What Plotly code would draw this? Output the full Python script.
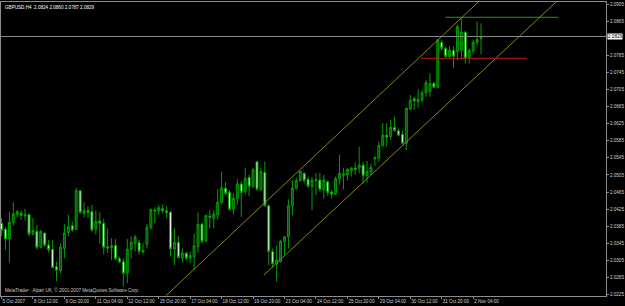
import plotly.graph_objects as go

# ---- data (GBPUSD H4) ----
opens = [2.0392,2.0378,2.0356,2.0394,2.0412,2.0415,2.0409,2.0412,2.0367,2.0373,
         2.0336,2.0369,2.0341,2.0331,2.0290,2.0280,2.0333,2.0370,2.0386,2.0378,
         2.0468,2.0415,2.0421,2.0419,2.0378,2.0397,2.0392,2.0337,2.0335,2.0340,
         2.0309,2.0302,2.0275,2.0331,2.0345,2.0347,2.0324,2.0343,2.0382,2.0423,
         2.0421,2.0426,2.0421,2.0418,2.0331,2.0347,2.0311,2.0322,2.0310,2.0314,
         2.0337,2.0390,2.0351,2.0409,2.0403,2.0411,2.0441,2.0474,2.0464,2.0425,
         2.0450,2.0484,2.0466,2.0499,2.0478,2.0536,2.0471,2.0511,2.0433,2.0326,
         2.0297,2.0302,2.0349,2.0360,2.0433,2.0474,2.0492,2.0509,2.0495,2.0478,
         2.0494,2.0493,2.0470,2.0489,2.0465,2.0460,2.0496,2.0507,2.0505,2.0515,
         2.0521,2.0521,2.0528,2.0503,2.0511,2.0545,2.0544,2.0574,2.0598,2.0595,
         2.0616,2.0608,2.0600,2.0579,2.0659,2.0683,2.0676,2.0680,2.0697,2.0700,
         2.0719,2.0710,2.0815,2.0801,2.0782,2.0796,2.0794,2.0797,2.0839,2.0778,
         2.0795,2.0815,2.0824]
highs = [2.0404,2.0383,2.0419,2.0441,2.0423,2.0422,2.0426,2.0415,2.0404,2.0388,
         2.0376,2.0370,2.0353,2.0353,2.0302,2.0345,2.0390,2.0412,2.0396,2.0475,
         2.0470,2.0441,2.0431,2.0435,2.0422,2.0418,2.0402,2.0380,2.0357,2.0355,
         2.0314,2.0310,2.0355,2.0361,2.0365,2.0353,2.0345,2.0390,2.0427,2.0429,
         2.0435,2.0436,2.0432,2.0419,2.0380,2.0362,2.0333,2.0325,2.0325,2.0368,
         2.0417,2.0394,2.0411,2.0423,2.0423,2.0472,2.0513,2.0488,2.0470,2.0462,
         2.0495,2.0491,2.0522,2.0505,2.0521,2.0538,2.0521,2.0536,2.0435,2.0333,
         2.0339,2.0353,2.0362,2.0448,2.0493,2.0499,2.0515,2.0510,2.0501,2.0501,
         2.0509,2.0510,2.0505,2.0492,2.0471,2.0501,2.0552,2.0521,2.0521,2.0523,
         2.0534,2.0571,2.0536,2.0538,2.0532,2.0549,2.0583,2.0626,2.0626,2.0634,
         2.0641,2.0614,2.0609,2.0663,2.0692,2.0688,2.0705,2.0704,2.0727,2.0743,
         2.0723,2.0822,2.0821,2.0805,2.0807,2.0805,2.0856,2.0872,2.0842,2.0801,
         2.0822,2.0864,2.0860]
lows = [2.0361,2.0330,2.0300,2.0386,2.0406,2.0400,2.0398,2.0361,2.0363,2.0330,
        2.0334,2.0337,2.0323,2.0287,2.0256,2.0275,2.0310,2.0362,2.0372,2.0376,
        2.0414,2.0406,2.0404,2.0372,2.0366,2.0344,2.0319,2.0322,2.0306,2.0305,
        2.0298,2.0244,2.0252,2.0310,2.0326,2.0318,2.0322,2.0333,2.0376,2.0392,
        2.0411,2.0415,2.0404,2.0314,2.0294,2.0310,2.0300,2.0304,2.0298,2.0283,
        2.0323,2.0345,2.0347,2.0380,2.0380,2.0401,2.0436,2.0458,2.0421,2.0413,
        2.0435,2.0407,2.0460,2.0456,2.0474,2.0468,2.0468,2.0431,2.0294,2.0287,
        2.0255,2.0300,2.0318,2.0333,2.0411,2.0470,2.0489,2.0485,2.0474,2.0423,
        2.0458,2.0466,2.0450,2.0456,2.0450,2.0458,2.0482,2.0471,2.0492,2.0501,
        2.0505,2.0509,2.0484,2.0487,2.0505,2.0526,2.0536,2.0571,2.0571,2.0587,
        2.0606,2.0595,2.0577,2.0563,2.0657,2.0657,2.0661,2.0674,2.0688,2.0688,
        2.0708,2.0708,2.0796,2.0780,2.0776,2.0755,2.0774,2.0778,2.0766,2.0766,
        2.0788,2.0809,2.0787]
closes = [2.0375,2.0355,2.0394,2.0414,2.0419,2.0410,2.0412,2.0367,2.0375,2.0335,
          2.0373,2.0341,2.0330,2.0288,2.0282,2.0336,2.0369,2.0384,2.0376,2.0468,
          2.0417,2.0422,2.0417,2.0376,2.0396,2.0392,2.0336,2.0334,2.0339,2.0309,
          2.0302,2.0275,2.0331,2.0347,2.0359,2.0326,2.0329,2.0382,2.0424,2.0421,
          2.0428,2.0421,2.0417,2.0332,2.0347,2.0312,2.0322,2.0310,2.0316,2.0339,
          2.0389,2.0349,2.0410,2.0406,2.0413,2.0441,2.0474,2.0462,2.0425,2.0450,
          2.0484,2.0464,2.0497,2.0478,2.0517,2.0471,2.0513,2.0433,2.0326,2.0297,
          2.0306,2.0350,2.0360,2.0433,2.0474,2.0492,2.0513,2.0492,2.0479,2.0493,
          2.0492,2.0471,2.0493,2.0464,2.0460,2.0496,2.0509,2.0505,2.0518,2.0521,
          2.0518,2.0528,2.0503,2.0513,2.0522,2.0543,2.0574,2.0598,2.0593,2.0616,
          2.0609,2.0598,2.0579,2.0661,2.0680,2.0678,2.0682,2.0697,2.0721,2.0719,
          2.0710,2.0821,2.0801,2.0782,2.0797,2.0783,2.0852,2.0839,2.0778,2.0796,
          2.0815,2.0822,2.0829]
bars = list(range(len(opens)))

time_tick_bars = [0, 8, 16, 24, 32, 40, 48, 56, 64, 72, 80, 88, 96, 104, 112, 120]
time_tick_labels = ["5 Oct 2007", "8 Oct 12:00", "9 Oct 20:00", "11 Oct 04:00",
                    "12 Oct 12:00", "15 Oct 20:00", "17 Oct 04:00", "18 Oct 12:00",
                    "19 Oct 20:00", "23 Oct 04:00", "24 Oct 12:00", "25 Oct 20:00",
                    "29 Oct 04:00", "30 Oct 12:00", "31 Oct 20:00", "2 Nov 04:00"]
price_ticks = [2.0225, 2.0265, 2.0305, 2.0345, 2.0385, 2.0425, 2.0465, 2.0505,
               2.0545, 2.0585, 2.0625, 2.0665, 2.0705, 2.0745, 2.0785, 2.0865, 2.0905]

# channel trend lines (bar, price anchor points)
upper_ch_bars = [41.8, 121.8]
upper_ch_prices = [2.0222, 2.0914]
lower_ch_bars = [66.8, 141.6]
lower_ch_prices = [2.0271, 2.0914]
# horizontal level lines
green_lvl_bars = [112.9, 141.6]
green_lvl_price = 2.0874
red_lvl_bars = [106.7, 133.7]
red_lvl_price = 2.0778

title_text = "GBPUSD,H4  2.0824 2.0860 2.0787 2.0829"
copyright_text = "MetaTrader - Alpari UK, \u00a9 2001-2007 MetaQuotes Software Corp."

FONT = "Liberation Sans, Arial, sans-serif"
TXT = "#d0d0d0"
FRAME = "#8c8c8c"
WICK = "#00a000"

fig = go.Figure()
fig.add_trace(go.Candlestick(
    x=bars, open=opens, high=highs, low=lows, close=closes,
    increasing=dict(line=dict(color=WICK, width=1), fillcolor="#0d4d0d"),
    decreasing=dict(line=dict(color=WICK, width=1), fillcolor="#eaffea"),
    whiskerwidth=0, hoverinfo="skip", showlegend=False))

for bx, py in ((upper_ch_bars, upper_ch_prices), (lower_ch_bars, lower_ch_prices)):
    fig.add_trace(go.Scatter(x=bx, y=py, mode="lines",
                             line=dict(color="#85851a", width=1),
                             hoverinfo="skip", showlegend=False))
fig.add_trace(go.Scatter(x=green_lvl_bars, y=[green_lvl_price] * 2, mode="lines",
                         line=dict(color="#1f9a1f", width=1),
                         hoverinfo="skip", showlegend=False))
fig.add_trace(go.Scatter(x=red_lvl_bars, y=[red_lvl_price] * 2, mode="lines",
                         line=dict(color="#c01818", width=1),
                         hoverinfo="skip", showlegend=False))

last_close = closes[-1]
fig.add_shape(type="line", xref="paper", x0=0, x1=1, yref="y",
              y0=last_close, y1=last_close, line=dict(color="#8a8a8a", width=1))

fig.add_annotation(xref="paper", yref="paper", x=0.004, y=0.997, xanchor="left",
                   yanchor="top", text=title_text, showarrow=False,
                   font=dict(family=FONT, size=4.6, color="#ffffff"))
fig.add_annotation(xref="paper", yref="paper", x=0.004, y=0.004, xanchor="left",
                   yanchor="bottom", text=copyright_text, showarrow=False,
                   font=dict(family=FONT, size=4.6, color="#c8c8c8"))
fig.add_annotation(xref="paper", yref="y", x=1.0, y=last_close, xanchor="left",
                   yanchor="middle", text="%.4f" % last_close, showarrow=False,
                   bgcolor="#ffffff", borderpad=0, xshift=1,
                   font=dict(family=FONT, size=4.6, color="#000000"))

fig.update_layout(
    width=625, height=306,
    margin=dict(l=1, r=19, t=2, b=10, pad=0),
    paper_bgcolor="#000000", plot_bgcolor="#000000",
    font=dict(family=FONT, size=4.6, color=TXT),
    boxgap=0.3, boxgroupgap=0.3,
    xaxis=dict(range=[-0.13, 153.8], showgrid=False, zeroline=False,
               showline=True, linecolor=FRAME, linewidth=1, mirror=True,
               ticks="outside", ticklen=2, tickcolor=FRAME, tickwidth=1,
               tickvals=time_tick_bars, ticktext=time_tick_labels,
               ticklabelposition="outside right", tickangle=0,
               tickfont=dict(family=FONT, size=4.6, color=TXT),
               rangeslider=dict(visible=False), fixedrange=True),
    yaxis=dict(range=[2.02217, 2.09097], side="right", showgrid=False,
               zeroline=False, showline=True, linecolor=FRAME, linewidth=1,
               mirror=True, ticks="outside", ticklen=2, tickcolor=FRAME,
               tickwidth=1, tickvals=price_ticks,
               ticktext=["%.4f" % v for v in price_ticks],
               tickfont=dict(family=FONT, size=4.6, color=TXT), fixedrange=True),
)

fig.write_html("out.html")
